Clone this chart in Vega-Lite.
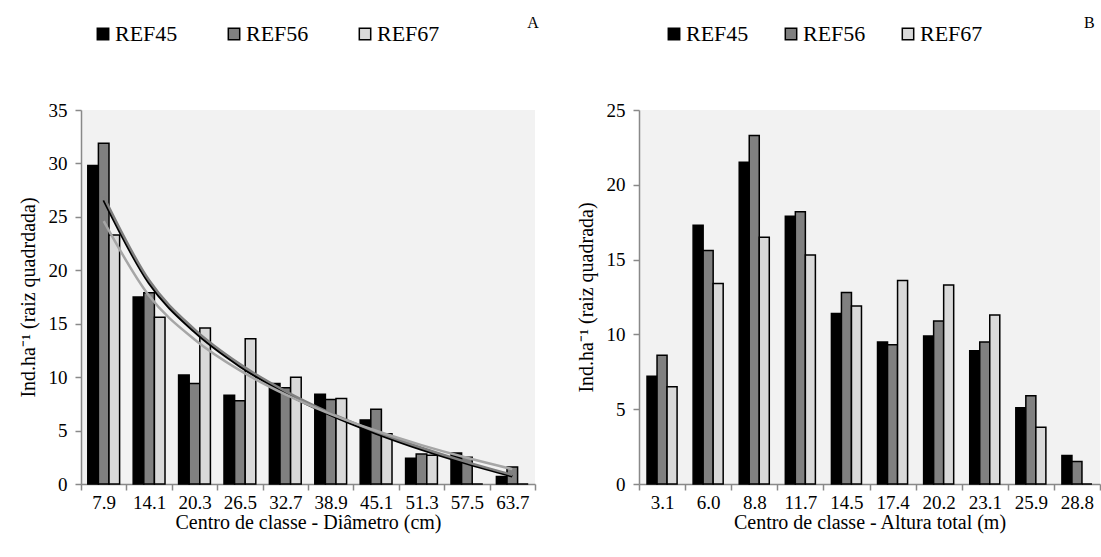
{
  "$schema": "https://vega.github.io/schema/vega-lite/v6.json",
  "background": "white",
  "padding": {"left": 18, "top": 15, "right": 3, "bottom": 5},
  "config": {
    "font": "Liberation Serif, serif",
    "view": {"fill": "#f2f2f2", "stroke": null},
    "title": {"font": "Liberation Serif, serif"},
    "axis": {
      "grid": false,
      "domainColor": "#898989",
      "domainWidth": 1.5,
      "tickColor": "#898989",
      "tickWidth": 1.5,
      "tickSize": 6,
      "labelColor": "black",
      "titleColor": "black",
      "labelFont": "Liberation Serif, serif",
      "titleFont": "Liberation Serif, serif",
      "labelFontSize": 19,
      "titleFontSize": 20,
      "titleFontWeight": "normal"
    },
    "axisX": {"labelAngle": 0, "labelPadding": 3, "titlePadding": 0},
    "axisY": {"labelPadding": 8, "titlePadding": 10},
    "legend": {
      "orient": "none",
      "direction": "horizontal",
      "title": null,
      "symbolType": "square",
      "symbolSize": 130,
      "symbolStrokeColor": "black",
      "symbolStrokeWidth": 1.5,
      "labelFont": "Liberation Serif, serif",
      "labelFontSize": 22,
      "labelColor": "black",
      "labelOffset": 1
    },
    "concat": {"spacing": 37}
  },
  "datasets": {
    "diam": [
      {"classe": "7.9", "serie": "REF45", "valor": 29.8},
      {"classe": "7.9", "serie": "REF56", "valor": 31.9},
      {"classe": "7.9", "serie": "REF67", "valor": 23.3},
      {"classe": "14.1", "serie": "REF45", "valor": 17.5},
      {"classe": "14.1", "serie": "REF56", "valor": 17.9},
      {"classe": "14.1", "serie": "REF67", "valor": 15.6},
      {"classe": "20.3", "serie": "REF45", "valor": 10.2},
      {"classe": "20.3", "serie": "REF56", "valor": 9.4},
      {"classe": "20.3", "serie": "REF67", "valor": 14.6},
      {"classe": "26.5", "serie": "REF45", "valor": 8.3},
      {"classe": "26.5", "serie": "REF56", "valor": 7.8},
      {"classe": "26.5", "serie": "REF67", "valor": 13.6},
      {"classe": "32.7", "serie": "REF45", "valor": 9.4},
      {"classe": "32.7", "serie": "REF56", "valor": 9.0},
      {"classe": "32.7", "serie": "REF67", "valor": 10.0},
      {"classe": "38.9", "serie": "REF45", "valor": 8.4},
      {"classe": "38.9", "serie": "REF56", "valor": 7.9},
      {"classe": "38.9", "serie": "REF67", "valor": 8.0},
      {"classe": "45.1", "serie": "REF45", "valor": 6.0},
      {"classe": "45.1", "serie": "REF56", "valor": 7.0},
      {"classe": "45.1", "serie": "REF67", "valor": 4.7},
      {"classe": "51.3", "serie": "REF45", "valor": 2.4},
      {"classe": "51.3", "serie": "REF56", "valor": 2.8},
      {"classe": "51.3", "serie": "REF67", "valor": 2.7},
      {"classe": "57.5", "serie": "REF45", "valor": 2.9},
      {"classe": "57.5", "serie": "REF56", "valor": 2.5},
      {"classe": "57.5", "serie": "REF67", "valor": 0},
      {"classe": "63.7", "serie": "REF45", "valor": 0.7},
      {"classe": "63.7", "serie": "REF56", "valor": 1.6},
      {"classe": "63.7", "serie": "REF67", "valor": 0}
    ],
    "diamFit": [
      {"classe": "7.9", "serie": "REF45", "valor": 26.56},
      {"classe": "14.1", "serie": "REF45", "valor": 18.78},
      {"classe": "20.3", "serie": "REF45", "valor": 14.23},
      {"classe": "26.5", "serie": "REF45", "valor": 11.01},
      {"classe": "32.7", "serie": "REF45", "valor": 8.51},
      {"classe": "38.9", "serie": "REF45", "valor": 6.45},
      {"classe": "45.1", "serie": "REF45", "valor": 4.73},
      {"classe": "51.3", "serie": "REF45", "valor": 3.23},
      {"classe": "57.5", "serie": "REF45", "valor": 1.91},
      {"classe": "63.7", "serie": "REF45", "valor": 0.72},
      {"classe": "7.9", "serie": "REF56", "valor": 26.9},
      {"classe": "14.1", "serie": "REF56", "valor": 19.06},
      {"classe": "20.3", "serie": "REF56", "valor": 14.47},
      {"classe": "26.5", "serie": "REF56", "valor": 11.22},
      {"classe": "32.7", "serie": "REF56", "valor": 8.7},
      {"classe": "38.9", "serie": "REF56", "valor": 6.63},
      {"classe": "45.1", "serie": "REF56", "valor": 4.89},
      {"classe": "51.3", "serie": "REF56", "valor": 3.39},
      {"classe": "57.5", "serie": "REF56", "valor": 2.05},
      {"classe": "63.7", "serie": "REF56", "valor": 0.86},
      {"classe": "7.9", "serie": "REF67", "valor": 24.6},
      {"classe": "14.1", "serie": "REF67", "valor": 17.61},
      {"classe": "20.3", "serie": "REF67", "valor": 13.53},
      {"classe": "26.5", "serie": "REF67", "valor": 10.63},
      {"classe": "32.7", "serie": "REF67", "valor": 8.38},
      {"classe": "38.9", "serie": "REF67", "valor": 6.54},
      {"classe": "45.1", "serie": "REF67", "valor": 4.98},
      {"classe": "51.3", "serie": "REF67", "valor": 3.64},
      {"classe": "57.5", "serie": "REF67", "valor": 2.45},
      {"classe": "63.7", "serie": "REF67", "valor": 1.39}
    ],
    "alt": [
      {"classe": "3.1", "serie": "REF45", "valor": 7.2},
      {"classe": "3.1", "serie": "REF56", "valor": 8.6},
      {"classe": "3.1", "serie": "REF67", "valor": 6.5},
      {"classe": "6.0", "serie": "REF45", "valor": 17.3},
      {"classe": "6.0", "serie": "REF56", "valor": 15.6},
      {"classe": "6.0", "serie": "REF67", "valor": 13.4},
      {"classe": "8.8", "serie": "REF45", "valor": 21.5},
      {"classe": "8.8", "serie": "REF56", "valor": 23.3},
      {"classe": "8.8", "serie": "REF67", "valor": 16.5},
      {"classe": "11.7", "serie": "REF45", "valor": 17.9},
      {"classe": "11.7", "serie": "REF56", "valor": 18.2},
      {"classe": "11.7", "serie": "REF67", "valor": 15.3},
      {"classe": "14.5", "serie": "REF45", "valor": 11.4},
      {"classe": "14.5", "serie": "REF56", "valor": 12.8},
      {"classe": "14.5", "serie": "REF67", "valor": 11.9},
      {"classe": "17.4", "serie": "REF45", "valor": 9.5},
      {"classe": "17.4", "serie": "REF56", "valor": 9.3},
      {"classe": "17.4", "serie": "REF67", "valor": 13.6},
      {"classe": "20.2", "serie": "REF45", "valor": 9.9},
      {"classe": "20.2", "serie": "REF56", "valor": 10.9},
      {"classe": "20.2", "serie": "REF67", "valor": 13.3},
      {"classe": "23.1", "serie": "REF45", "valor": 8.9},
      {"classe": "23.1", "serie": "REF56", "valor": 9.5},
      {"classe": "23.1", "serie": "REF67", "valor": 11.3},
      {"classe": "25.9", "serie": "REF45", "valor": 5.1},
      {"classe": "25.9", "serie": "REF56", "valor": 5.9},
      {"classe": "25.9", "serie": "REF67", "valor": 3.8},
      {"classe": "28.8", "serie": "REF45", "valor": 1.9},
      {"classe": "28.8", "serie": "REF56", "valor": 1.5},
      {"classe": "28.8", "serie": "REF67", "valor": 0}
    ]
  },
  "hconcat": [
    {
      "width": 454,
      "height": 374,
      "title": {"text": "A", "anchor": "end", "fontSize": 16, "fontWeight": "normal", "font": "Liberation Serif, serif", "color": "black", "dy": 12, "dx": 3},
      "layer": [
        {
          "data": {"name": "diam"},
          "mark": {"type": "bar", "stroke": "black", "strokeWidth": 1.5},
          "encoding": {
            "x": {"field": "classe", "type": "ordinal", "sort": null, "scale": {"paddingInner": 0, "paddingOuter": 0},
                  "axis": {"title": "Centro de classe - Diâmetro (cm)", "tickBand": "extent"}},
            "xOffset": {"field": "serie", "type": "nominal", "scale": {"paddingInner": 0, "paddingOuter": 0.64}},
            "y": {"field": "valor", "type": "quantitative", "scale": {"domain": [0, 35], "nice": false},
                  "axis": {"values": [0, 5, 10, 15, 20, 25, 30, 35], "title": "Ind.ha⁻¹ (raiz quadrdada)"}},
            "fill": {"field": "serie", "type": "nominal",
                     "scale": {"domain": ["REF45", "REF56", "REF67"], "range": ["#000000", "#808080", "#d9d9d9"]},
                     "legend": {"legendX": 11, "legendY": -87, "columnPadding": 45}}
          }
        },
        {
          "data": {"name": "diamFit"},
          "mark": {"type": "line", "interpolate": "monotone", "strokeWidth": 2.5},
          "encoding": {
            "x": {"field": "classe", "type": "ordinal", "sort": null},
            "y": {"field": "valor", "type": "quantitative"},
            "stroke": {"field": "serie", "type": "nominal",
                       "scale": {"domain": ["REF67", "REF56", "REF45"], "range": ["#a6a6a6", "#7f7f7f", "#000000"]},
                       "legend": null}
          }
        }
      ]
    },
    {
      "width": 461,
      "height": 374,
      "title": {"text": "B", "anchor": "end", "fontSize": 16, "fontWeight": "normal", "font": "Liberation Serif, serif", "color": "black", "dy": 12, "dx": -6},
      "data": {"name": "alt"},
      "mark": {"type": "bar", "stroke": "black", "strokeWidth": 1.5},
      "encoding": {
        "x": {"field": "classe", "type": "ordinal", "sort": null, "scale": {"paddingInner": 0, "paddingOuter": 0},
              "axis": {"title": "Centro de classe - Altura total (m)", "tickBand": "extent"}},
        "xOffset": {"field": "serie", "type": "nominal", "scale": {"paddingInner": 0, "paddingOuter": 0.8}},
        "y": {"field": "valor", "type": "quantitative", "scale": {"domain": [0, 25], "nice": false},
              "axis": {"values": [0, 5, 10, 15, 20, 25], "title": "Ind.ha⁻¹ (raiz quadrada)"}},
        "fill": {"field": "serie", "type": "nominal",
                 "scale": {"domain": ["REF45", "REF56", "REF67"], "range": ["#000000", "#808080", "#d9d9d9"]},
                 "legend": {"legendX": 24, "legendY": -87, "columnPadding": 31}}
      }
    }
  ],
  "resolve": {
    "scale": {"x": "independent", "y": "independent", "xOffset": "independent", "fill": "independent", "stroke": "independent"},
    "legend": {"fill": "independent"}
  }
}
